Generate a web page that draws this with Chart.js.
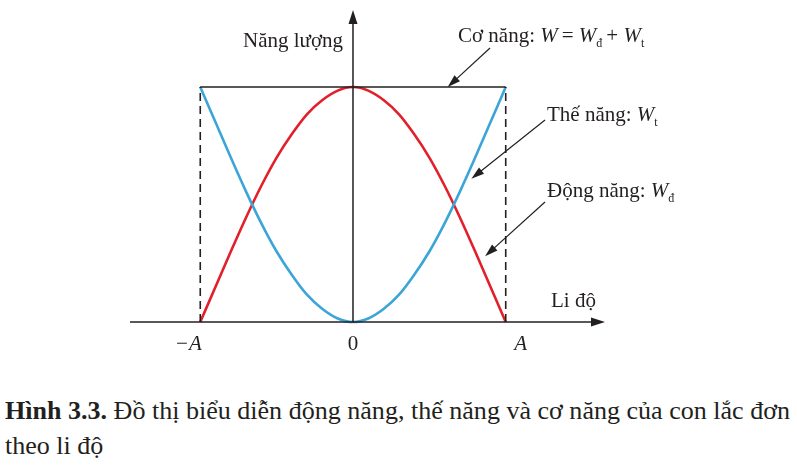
<!DOCTYPE html>
<html>
<head>
<meta charset="utf-8">
<script src="https://cdn.jsdelivr.net/npm/chart.js@4/dist/chart.umd.min.js"></script>
<style>
  body { margin: 0; background: #fff; width: 797px; height: 473px; overflow: hidden; position: relative; }
  #wrap { position: absolute; left: 0; top: 0; width: 797px; height: 380px; }
  .cap { position: absolute; left: 5px; font-family: "Liberation Serif", Tinos, "Noto Serif", "Nimbus Roman", FreeSerif, Times, "DejaVu Serif", serif; font-size: 25px; color: #231f20;
         white-space: nowrap; transform-origin: left top; }
  #cap1 { top: 397px; }
  #cap2 { top: 432px; }
</style>
</head>
<body>
<div id="wrap"><canvas id="chart" width="797" height="380"></canvas></div>
<div class="cap" id="cap1"><b>Hình 3.3.</b> Đồ thị biểu diễn động năng, thế năng và cơ năng của con lắc đơn</div>
<div class="cap" id="cap2">theo li độ</div>
<script>
// li do (x / A)
var liDo = [-1, -0.9, -0.8, -0.7, -0.6, -0.5, -0.4, -0.3, -0.2, -0.1, 0, 0.1, 0.2, 0.3, 0.4, 0.5, 0.6, 0.7, 0.8, 0.9, 1];
// the nang Wt (xanh)
var theNang = [1, 0.85, 0.70, 0.555, 0.42, 0.30, 0.20, 0.115, 0.055, 0.015, 0, 0.015, 0.055, 0.115, 0.20, 0.30, 0.42, 0.555, 0.70, 0.85, 1];
// dong nang Wd (do)
var dongNang = [0, 0.15, 0.30, 0.445, 0.58, 0.70, 0.80, 0.885, 0.945, 0.985, 1, 0.985, 0.945, 0.885, 0.80, 0.70, 0.58, 0.445, 0.30, 0.15, 0];
// co nang W
var coNangX = [-1, 1];
var coNangY = [1, 1];
var tickValues = [-1, 0, 1];
var tickLabels = ['−A', '0', 'A'];

function pts(xs, ys) {
  return xs.map(function(x, i) { return { x: x, y: ys[i] }; });
}

var serif = '"Liberation Serif", Tinos, "Noto Serif", "Nimbus Roman", FreeSerif, Times, "DejaVu Serif", serif';

// ve chuoi chu co chi so duoi
function drawRuns(ctx, x, y, runs) {
  runs.forEach(function(r) {
    ctx.font = r.font;
    ctx.fillText(r.t, x, y + (r.dy || 0));
    x += ctx.measureText(r.t).width + (r.gap || 0);
  });
}

function arrow(ctx, x1, y1, x2, y2) {
  var a = Math.atan2(y2 - y1, x2 - x1);
  ctx.beginPath();
  ctx.moveTo(x1, y1);
  ctx.lineTo(x2 - 8 * Math.cos(a), y2 - 8 * Math.sin(a));
  ctx.stroke();
  ctx.beginPath();
  ctx.moveTo(x2, y2);
  ctx.lineTo(x2 - 13 * Math.cos(a) + 4 * Math.sin(a), y2 - 13 * Math.sin(a) - 4 * Math.cos(a));
  ctx.lineTo(x2 - 13 * Math.cos(a) - 4 * Math.sin(a), y2 - 13 * Math.sin(a) + 4 * Math.cos(a));
  ctx.closePath();
  ctx.fill();
}

var annotate = {
  id: 'annotate',
  afterDatasetsDraw: function(chart) {
    var ctx = chart.ctx, xs = chart.scales.x, ys = chart.scales.y, area = chart.chartArea;
    var x0 = xs.getPixelForValue(0), y0 = ys.getPixelForValue(0);
    ctx.save();
    ctx.strokeStyle = '#231f20';
    ctx.fillStyle = '#231f20';
    ctx.lineWidth = 1.5;
    // truc hoanh
    ctx.beginPath(); ctx.moveTo(area.left, y0); ctx.lineTo(area.right - 6, y0); ctx.stroke();
    ctx.beginPath(); ctx.moveTo(area.right, y0); ctx.lineTo(area.right - 14, y0 - 4.5); ctx.lineTo(area.right - 14, y0 + 4.5); ctx.closePath(); ctx.fill();
    // truc tung
    ctx.beginPath(); ctx.moveTo(x0, y0); ctx.lineTo(x0, area.top + 6); ctx.stroke();
    ctx.beginPath(); ctx.moveTo(x0, area.top); ctx.lineTo(x0 - 4.5, area.top + 14); ctx.lineTo(x0 + 4.5, area.top + 14); ctx.closePath(); ctx.fill();

    // nhan truc
    ctx.textBaseline = 'alphabetic';
    ctx.textAlign = 'left';
    ctx.font = '21px ' + serif;
    ctx.fillText('Năng lượng', 243, 47);
    ctx.fillText('Li độ', 551, 307);

    // nhan vach
    ctx.textAlign = 'center';
    tickValues.forEach(function(v, i) {
      var px = xs.getPixelForValue(v);
      var off = v < 0 ? -12 : (v > 0 ? 15 : 0);
      ctx.font = (v === 0 ? '' : 'italic ') + '21px ' + serif;
      ctx.fillText(tickLabels[i], px + off, y0 + 28);
    });
    ctx.textAlign = 'left';

    // chu thich
    var big = '21px ' + serif, it = 'italic 21px ' + serif, sub = '12px ' + serif;
    drawRuns(ctx, 458, 42, [
      { t: 'Cơ năng: ', font: big }, { t: 'W', font: it, gap: 4 }, { t: '= ', font: big },
      { t: 'W', font: it }, { t: 'đ', font: sub, dy: 5, gap: 4 }, { t: '+ ', font: big },
      { t: 'W', font: it }, { t: 't', font: sub, dy: 5 }
    ]);
    drawRuns(ctx, 547, 121, [
      { t: 'Thế năng: ', font: big }, { t: 'W', font: it }, { t: 't', font: sub, dy: 5 }
    ]);
    drawRuns(ctx, 547, 197, [
      { t: 'Động năng: ', font: big }, { t: 'W', font: it }, { t: 'đ', font: sub, dy: 5 }
    ]);

    // mui ten chi vao duong
    ctx.lineWidth = 1.2;
    arrow(ctx, 490, 48, xs.getPixelForValue(0.62), ys.getPixelForValue(1));
    arrow(ctx, 545, 120, xs.getPixelForValue(0.775), ys.getPixelForValue(0.61));
    arrow(ctx, 545, 202, xs.getPixelForValue(0.865), ys.getPixelForValue(0.28));
    ctx.restore();
  }
};

var ctx = document.getElementById('chart').getContext('2d');
var chart = new Chart(ctx, {
  type: 'scatter',
  data: {
    datasets: [
      {
        label: 'dashL',
        data: pts([-1, -1], [0, 1]),
        showLine: true, borderColor: '#231f20', borderWidth: 1.6, borderDash: [8, 5], pointRadius: 0
      },
      {
        label: 'dashR',
        data: pts([1, 1], [0, 1]),
        showLine: true, borderColor: '#231f20', borderWidth: 1.6, borderDash: [8, 5], pointRadius: 0
      },
      {
        label: 'Cơ năng',
        data: pts(coNangX, coNangY),
        showLine: true, borderColor: '#231f20', borderWidth: 1.6, pointRadius: 0
      },
      {
        label: 'Thế năng',
        data: pts(liDo, theNang),
        showLine: true, borderColor: '#3ba5d8', borderWidth: 2.6, pointRadius: 0,
        cubicInterpolationMode: 'monotone'
      },
      {
        label: 'Động năng',
        data: pts(liDo, dongNang),
        showLine: true, borderColor: '#e2202b', borderWidth: 2.6, pointRadius: 0,
        cubicInterpolationMode: 'monotone'
      }
    ]
  },
  options: {
    responsive: false,
    animation: false,
    clip: false,
    layout: { padding: { left: 130, right: 192, top: 10, bottom: 58 } },
    scales: {
      x: { type: 'linear', min: -1.46, max: 1.65, display: false },
      y: { type: 'linear', min: 0, max: 1.328, display: false }
    },
    plugins: { legend: { display: false }, tooltip: { enabled: false } }
  },
  plugins: [annotate]
});

// ep chu thich cho vua chieu rong
var cap1 = document.getElementById('cap1');
var s = 785 / cap1.getBoundingClientRect().width;
cap1.style.transform = 'scaleX(' + s + ')';
document.getElementById('cap2').style.transform = 'scaleX(' + s + ')';
</script>
</body>
</html>
